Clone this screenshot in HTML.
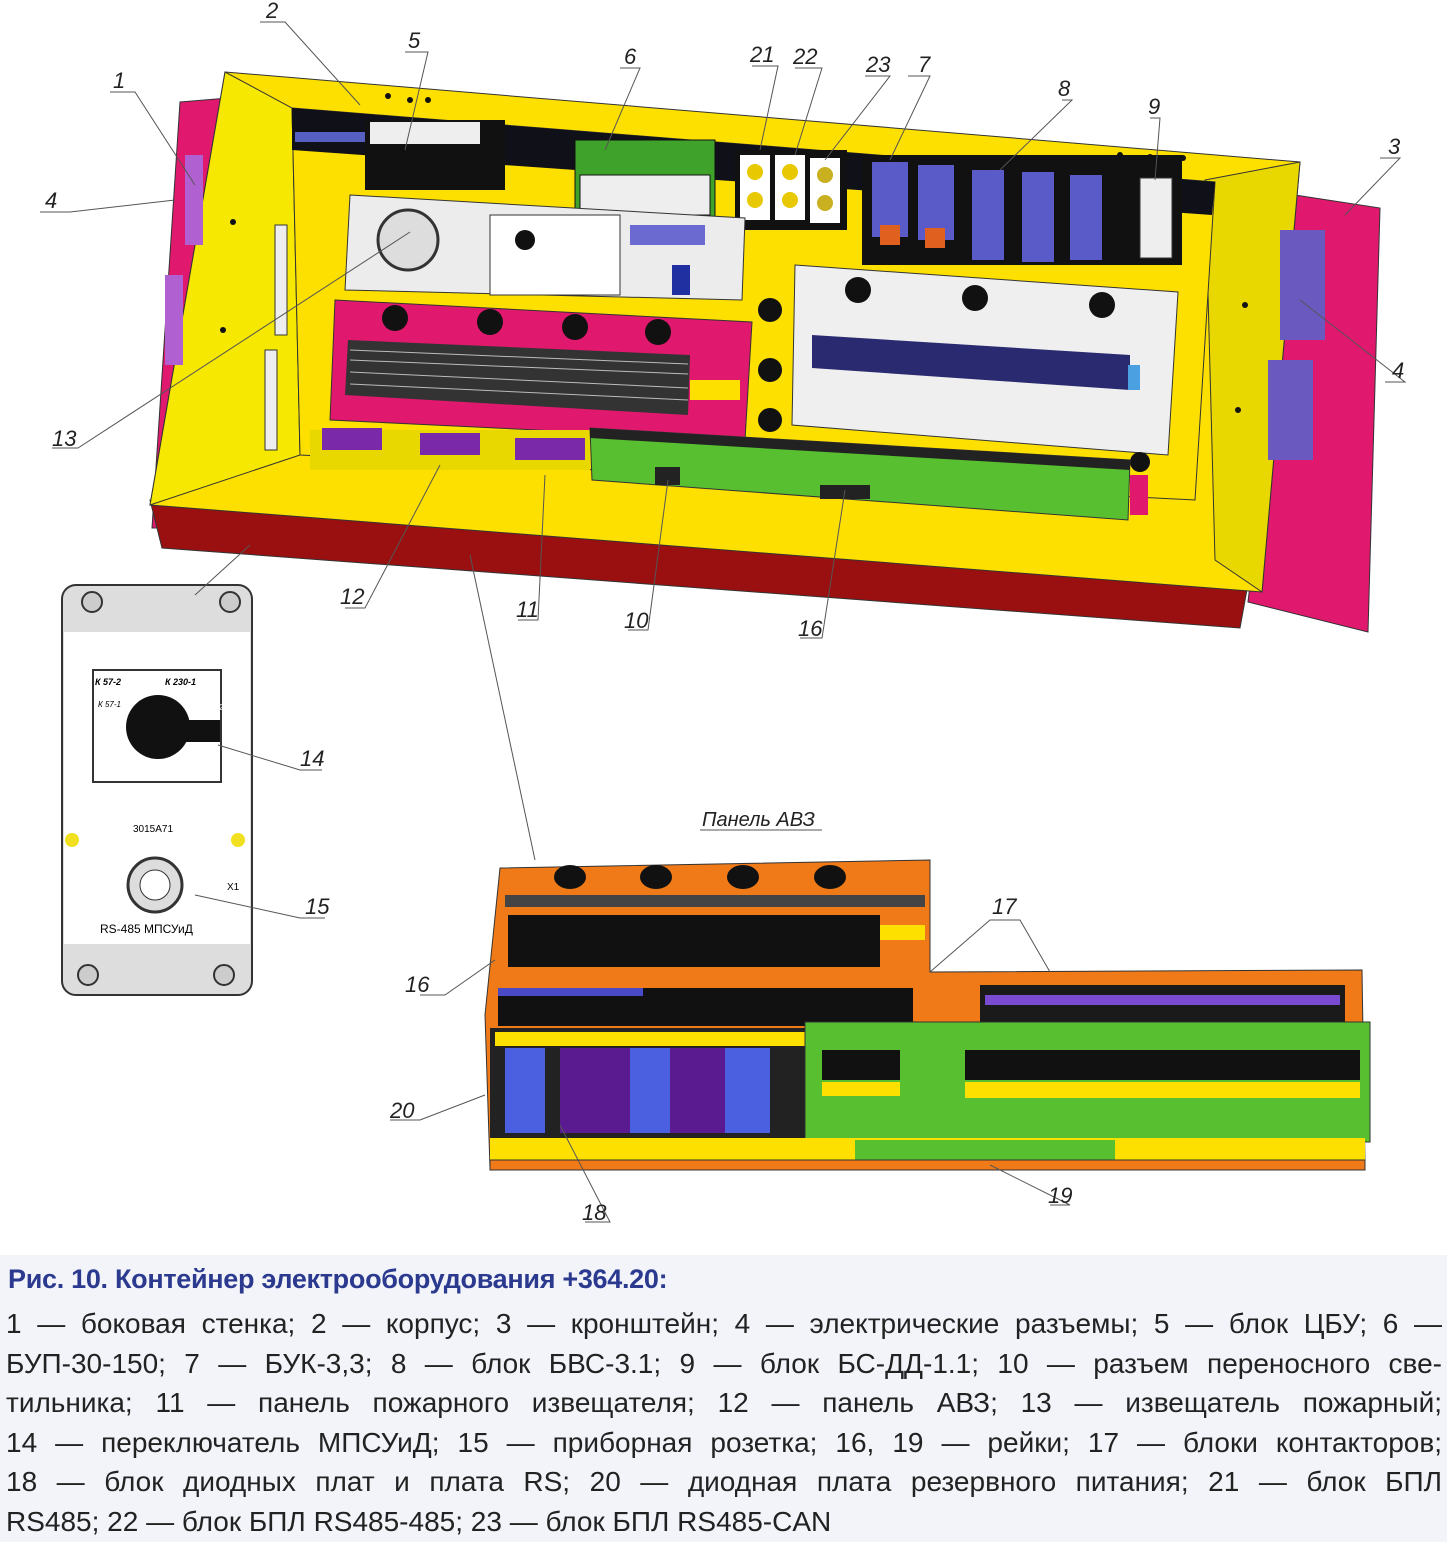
<!DOCTYPE html>
<html><head><meta charset="utf-8">
<style>
html,body{margin:0;padding:0;background:#fff;}
body{width:1447px;height:1542px;position:relative;overflow:hidden;font-family:"Liberation Sans",sans-serif;}
svg{position:absolute;left:0;top:0;}
.lbl{font-family:"Liberation Sans",sans-serif;font-style:italic;font-size:22px;fill:#222;}
#cap{position:absolute;left:0;top:1255px;width:1447px;height:287px;background:#f2f4fa;}
#title{position:absolute;left:8px;top:1264px;font-size:27px;font-weight:bold;color:#2b3a8f;letter-spacing:-0.3px;}
#body{position:absolute;left:6px;top:1304px;width:1436px;font-size:28px;line-height:39.6px;color:#222;}
#body div{text-align:justify;text-align-last:justify;white-space:nowrap;}
#body div.last{text-align-last:left;}
</style></head><body>
<div id="cap"></div>
<svg width="1447" height="1255" viewBox="0 0 1447 1255" xmlns="http://www.w3.org/2000/svg">
<polygon points="180,102 228,98 205,528 152,528" fill="#e0186e" stroke="#333"/>
<polygon points="150,500 1252,562 1240,628 162,548" fill="#9a1010" stroke="#333"/>
<polygon points="1295,195 1380,208 1368,632 1248,602" fill="#e0186e" stroke="#333"/>
<polygon points="225,72 1300,162 1262,592 150,505" fill="#fde000" stroke="#333"/>
<polygon points="1205,180 1300,162 1262,592 1215,560" fill="#e8d800" stroke="#333"/>
<polygon points="225,72 292,108 300,455 150,505" fill="#f6e800" stroke="#333"/>
<polygon points="292,108 1215,182 1195,500 300,455" fill="#fde000" stroke="#333"/>
<polygon points="292,108 1215,182 1212,215 292,150" fill="#101018"/>
<rect x="295" y="132" width="90" height="10" fill="#5560c0"/>
<rect x="365" y="120" width="140" height="70" fill="#111"/>
<rect x="370" y="122" width="110" height="22" fill="#eee"/>
<rect x="575" y="140" width="140" height="80" fill="#3fa22a" stroke="#111"/>
<rect x="580" y="175" width="130" height="40" fill="#eee" stroke="#111"/>
<rect x="735" y="150" width="112" height="80" fill="#111"/>
<rect x="740" y="155" width="30" height="65" fill="#fff"/><circle cx="755" cy="172" r="8" fill="#e8c800"/><circle cx="755" cy="200" r="8" fill="#e8c800"/>
<rect x="775" y="155" width="30" height="65" fill="#fff"/><circle cx="790" cy="172" r="8" fill="#e8c800"/><circle cx="790" cy="200" r="8" fill="#e8c800"/>
<rect x="810" y="158" width="30" height="65" fill="#fff"/><circle cx="825" cy="175" r="8" fill="#c8b020"/><circle cx="825" cy="203" r="8" fill="#c8b020"/>
<rect x="862" y="155" width="320" height="110" fill="#111"/>
<rect x="872" y="162" width="36" height="75" fill="#5a5ac8"/><rect x="880" y="225" width="20" height="20" fill="#e06020"/>
<rect x="918" y="165" width="36" height="75" fill="#5a5ac8"/><rect x="925" y="228" width="20" height="20" fill="#e06020"/>
<rect x="972" y="170" width="32" height="90" fill="#5a5ac8"/>
<rect x="1022" y="172" width="32" height="90" fill="#5a5ac8"/>
<rect x="1070" y="175" width="32" height="85" fill="#5a5ac8"/>
<rect x="1140" y="178" width="32" height="80" fill="#eee" stroke="#333"/>
<polygon points="350,195 745,218 742,300 345,290" fill="#ececec" stroke="#333"/>
<circle cx="408" cy="240" r="30" fill="#ddd" stroke="#333" stroke-width="3"/>
<rect x="490" y="215" width="130" height="80" fill="#fff" stroke="#333"/>
<circle cx="525" cy="240" r="10" fill="#111"/>
<rect x="630" y="225" width="75" height="20" fill="#6a6ad0"/>
<rect x="672" y="265" width="18" height="30" fill="#2030a0"/>
<polygon points="335,300 752,322 745,440 330,420" fill="#e0186e" stroke="#333"/>
<circle cx="395" cy="318" r="13" fill="#111"/><circle cx="490" cy="322" r="13" fill="#111"/><circle cx="575" cy="327" r="13" fill="#111"/><circle cx="658" cy="332" r="13" fill="#111"/>
<polygon points="348,340 690,355 688,415 345,395" fill="#333"/>
<g stroke="#bbb" stroke-width="1">
<line x1="350" y1="350" x2="688" y2="364"/><line x1="350" y1="360" x2="688" y2="374"/><line x1="350" y1="372" x2="688" y2="388"/><line x1="350" y1="384" x2="688" y2="400"/>
</g>
<rect x="690" y="380" width="50" height="20" fill="#fde000"/>
<polygon points="795,265 1178,292 1168,455 792,425" fill="#efefef" stroke="#333"/>
<circle cx="858" cy="290" r="13" fill="#111"/><circle cx="975" cy="298" r="13" fill="#111"/><circle cx="1102" cy="305" r="13" fill="#111"/>
<polygon points="812,335 1130,355 1130,390 812,368" fill="#2a2a70"/>
<rect x="1128" y="365" width="12" height="25" fill="#4aa0e0"/>
<circle cx="770" cy="310" r="12" fill="#111"/><circle cx="770" cy="370" r="12" fill="#111"/><circle cx="770" cy="420" r="12" fill="#111"/>
<circle cx="1140" cy="462" r="10" fill="#111"/>
<rect x="310" y="430" width="280" height="40" fill="#e8d800"/>
<rect x="322" y="428" width="60" height="22" fill="#7a2aa8"/>
<rect x="420" y="433" width="60" height="22" fill="#7a2aa8"/>
<rect x="515" y="438" width="70" height="22" fill="#7a2aa8"/>
<polygon points="590,428 1130,460 1128,520 592,480" fill="#58c030" stroke="#333"/>
<polygon points="590,428 1130,460 1130,470 590,438" fill="#222"/>
<rect x="820" y="485" width="50" height="14" fill="#222"/>
<rect x="655" y="467" width="25" height="18" fill="#222"/>
<rect x="1130" y="475" width="18" height="40" fill="#e0186e"/>
<rect x="185" y="155" width="18" height="90" fill="#b060d0"/>
<rect x="165" y="275" width="18" height="90" fill="#b060d0"/>
<rect x="1280" y="230" width="45" height="110" fill="#6a5ac0"/>
<rect x="1268" y="360" width="45" height="100" fill="#6a5ac0"/>
<rect x="275" y="225" width="12" height="110" fill="#eee" stroke="#333"/>
<rect x="265" y="350" width="12" height="100" fill="#eee" stroke="#333"/>
<g fill="#111"><circle cx="388" cy="96" r="3"/><circle cx="410" cy="100" r="3"/><circle cx="428" cy="100" r="3"/><circle cx="1120" cy="155" r="3"/><circle cx="1150" cy="157" r="3"/><circle cx="1183" cy="158" r="3"/><circle cx="233" cy="222" r="3"/><circle cx="223" cy="330" r="3"/><circle cx="1245" cy="305" r="3"/><circle cx="1238" cy="410" r="3"/></g>
<g stroke="#555" stroke-width="1" fill="none">
<polyline points="110,92 135,92 195,185"/>
<polyline points="260,22 285,22 360,105"/>
<polyline points="405,52 428,52 405,150"/>
<polyline points="620,68 640,68 605,150 M640,68 670,150"/>
<polyline points="752,66 778,66 760,150"/>
<polyline points="795,68 822,68 795,155"/>
<polyline points="865,76 890,76 825,160"/>
<polyline points="908,76 930,76 890,160 M930,76 945,160"/>
<polyline points="1062,100 1072,100 1000,170 M1072,100 1050,175 M1072,100 1090,180"/>
<polyline points="1150,118 1160,118 1155,180"/>
<polyline points="1380,158 1400,158 1345,215"/>
<polyline points="40,212 70,212 175,200 M70,212 165,300"/>
<polyline points="1385,382 1405,382 1300,300 M1405,382 1300,410"/>
<polyline points="52,448 78,448 410,232"/>
<polyline points="345,608 365,608 440,465"/>
<polyline points="518,620 538,620 545,475"/>
<polyline points="628,630 648,630 668,480"/>
<polyline points="800,638 822,638 845,490"/>
<polyline points="470,555 535,860"/>
</g>
<g class="lbl">
<text x="113" y="88" class="lbl">1</text><text x="266" y="18" class="lbl">2</text><text x="1388" y="154" class="lbl">3</text>
<text x="45" y="208" class="lbl">4</text><text x="1392" y="378" class="lbl">4</text><text x="408" y="48" class="lbl">5</text>
<text x="624" y="64" class="lbl">6</text><text x="918" y="72" class="lbl">7</text><text x="1058" y="96" class="lbl">8</text><text x="1148" y="114" class="lbl">9</text>
<text x="750" y="62" class="lbl">21</text><text x="793" y="64" class="lbl">22</text><text x="866" y="72" class="lbl">23</text>
<text x="52" y="446" class="lbl">13</text><text x="340" y="604" class="lbl">12</text><text x="516" y="617" class="lbl">11</text><text x="624" y="628" class="lbl">10</text><text x="798" y="636" class="lbl">16</text>
</g>
<rect x="62" y="585" width="190" height="410" rx="14" fill="#ddd" stroke="#333" stroke-width="2"/>
<rect x="64" y="632" width="186" height="312" fill="#fff"/>
<circle cx="92" cy="602" r="10" fill="#ccc" stroke="#333" stroke-width="2"/><circle cx="230" cy="602" r="10" fill="#ccc" stroke="#333" stroke-width="2"/>
<circle cx="88" cy="975" r="10" fill="#ccc" stroke="#333" stroke-width="2"/><circle cx="224" cy="975" r="10" fill="#ccc" stroke="#333" stroke-width="2"/>
<rect x="93" y="670" width="128" height="112" fill="#fff" stroke="#333" stroke-width="2"/>
<circle cx="158" cy="727" r="32" fill="#111"/><rect x="160" y="720" width="60" height="22" fill="#111"/>
<text x="95" y="685" font-size="9" font-style="italic" font-weight="bold">К 57-2</text><text x="165" y="685" font-size="9" font-style="italic" font-weight="bold">К 230-1</text>
<text x="98" y="707" font-size="8" font-style="italic">К 57-1</text><text x="196" y="710" font-size="8" font-style="italic" fill="#fff">К 230-2</text>
<text x="133" y="832" font-size="10">3015A71</text>
<circle cx="72" cy="840" r="7" fill="#f0e020"/><circle cx="238" cy="840" r="7" fill="#f0e020"/>
<circle cx="155" cy="885" r="27" fill="#ddd" stroke="#333" stroke-width="3"/><circle cx="155" cy="885" r="15" fill="#fff" stroke="#333"/>
<text x="227" y="890" font-size="10">X1</text>
<text x="100" y="933" font-size="12">RS-485 МПСУиД</text>
<g stroke="#555" fill="none"><polyline points="195,595 250,545"/><polyline points="218,745 300,770 322,770"/><polyline points="195,895 300,918 325,918"/></g>
<text x="300" y="766" class="lbl">14</text><text x="305" y="914" class="lbl">15</text>
<text x="702" y="826" font-size="20" font-style="italic" fill="#222">Панель АВЗ</text>
<line x1="700" y1="830" x2="822" y2="830" stroke="#555"/>
<polygon points="500,868 930,860 930,972 1362,970 1365,1165 490,1168 485,1015" fill="#f07a18" stroke="#333"/>
<g fill="#111"><ellipse cx="570" cy="877" rx="16" ry="12"/><ellipse cx="656" cy="877" rx="16" ry="12"/><ellipse cx="743" cy="877" rx="16" ry="12"/><ellipse cx="830" cy="877" rx="16" ry="12"/></g>
<rect x="505" y="895" width="420" height="12" fill="#444"/>
<rect x="508" y="915" width="372" height="52" fill="#111"/>
<rect x="880" y="925" width="45" height="15" fill="#fde000"/>
<rect x="498" y="988" width="415" height="38" fill="#111"/>
<rect x="498" y="988" width="145" height="8" fill="#4a4ac8"/>
<rect x="980" y="985" width="365" height="38" fill="#1a1a1a"/>
<rect x="985" y="995" width="355" height="10" fill="#7a4ad0"/>
<rect x="490" y="1028" width="320" height="110" fill="#222"/>
<rect x="495" y="1032" width="310" height="14" fill="#fde000"/>
<rect x="505" y="1048" width="40" height="85" fill="#4a60e0"/><rect x="560" y="1048" width="70" height="85" fill="#5a1a90"/><rect x="630" y="1048" width="40" height="85" fill="#4a60e0"/><rect x="670" y="1048" width="55" height="85" fill="#5a1a90"/><rect x="725" y="1048" width="45" height="85" fill="#4a60e0"/>
<rect x="805" y="1022" width="565" height="120" fill="#58c030" stroke="#333"/>
<rect x="822" y="1050" width="78" height="30" fill="#111"/>
<rect x="965" y="1050" width="395" height="30" fill="#111"/>
<rect x="822" y="1082" width="78" height="14" fill="#fde000"/>
<rect x="965" y="1082" width="395" height="16" fill="#fde000"/>
<rect x="490" y="1138" width="875" height="22" fill="#fde000"/>
<rect x="855" y="1140" width="260" height="25" fill="#58c030"/>
<rect x="490" y="1160" width="875" height="10" fill="#f07a18" stroke="#333"/>
<g stroke="#555" fill="none">
<polyline points="930,972 990,920 1020,920 1050,972"/>
<polyline points="420,995 445,995 495,960 M445,995 495,1015"/>
<polyline points="390,1120 420,1120 485,1095"/>
<polyline points="585,1222 610,1222 560,1125 M610,1222 625,1140 M610,1222 665,1165"/>
<polyline points="1050,1205 1070,1205 990,1165 M1050,1205 880,1080"/>
</g>
<text x="992" y="914" class="lbl">17</text><text x="405" y="992" class="lbl">16</text><text x="390" y="1118" class="lbl">20</text><text x="582" y="1220" class="lbl">18</text><text x="1048" y="1203" class="lbl">19</text>
</svg>
<div id="title">Рис. 10. Контейнер электрооборудования +364.20:</div>
<div id="body">
<div>1 — боковая стенка; 2 — корпус; 3 — кронштейн; 4 — электрические разъемы; 5 — блок ЦБУ; 6 —</div>
<div>БУП-30-150; 7 — БУК-3,3; 8 — блок БВС-3.1; 9 — блок БС-ДД-1.1; 10 — разъем переносного све-</div>
<div>тильника; 11 — панель пожарного извещателя; 12 — панель АВЗ; 13 — извещатель пожарный;</div>
<div>14 — переключатель МПСУиД; 15 — приборная розетка; 16, 19 — рейки; 17 — блоки контакторов;</div>
<div>18 — блок диодных плат и плата RS; 20 — диодная плата резервного питания; 21 — блок БПЛ</div>
<div class="last">RS485; 22 — блок БПЛ RS485-485; 23 — блок БПЛ RS485-CAN</div>
</div>
</body></html>
